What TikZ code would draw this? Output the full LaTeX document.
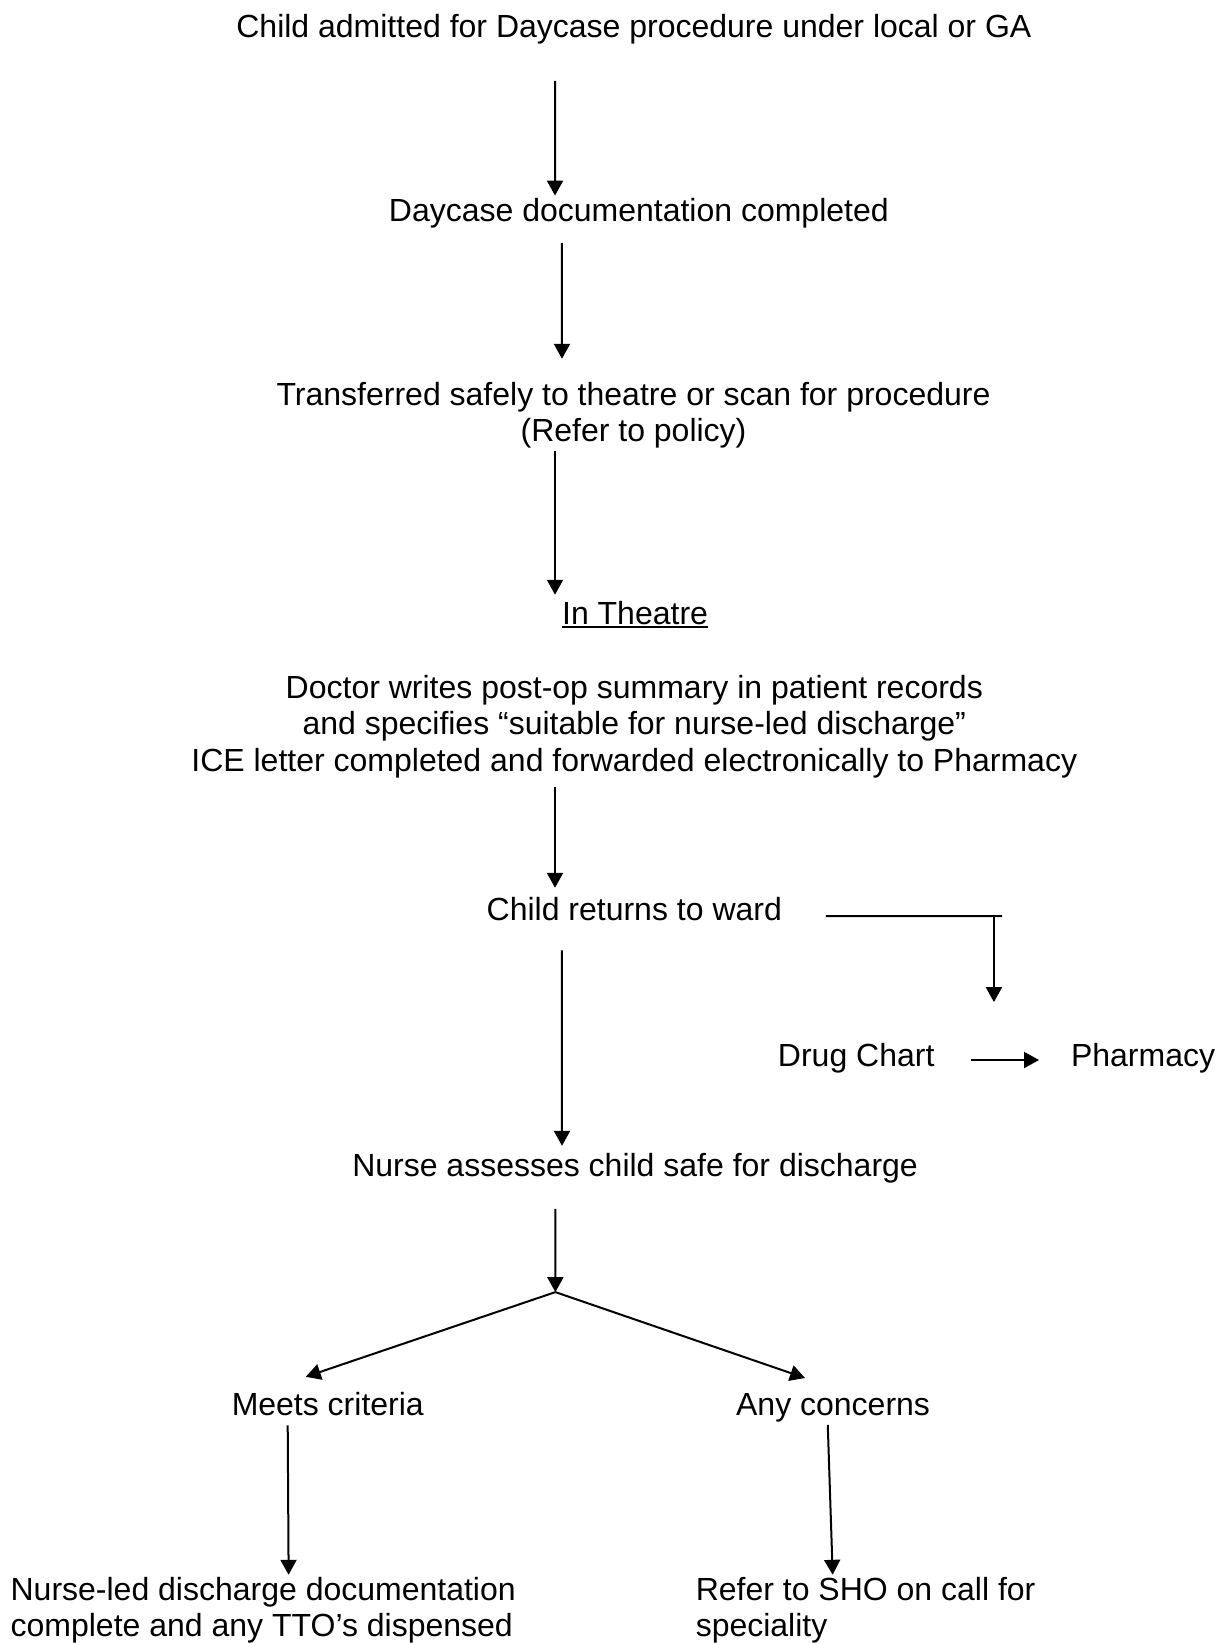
\documentclass[tikz,border=0pt]{standalone}
\usepackage{fontspec}
\setmainfont{Liberation Sans}
\usepackage{tikz}
\usetikzlibrary{arrows.meta,positioning,calc}
\newcommand{\undl}[1]{\setbox0\hbox{#1}\rlap{\rule[-1.6pt]{\wd0}{0.95pt}}\box0}

\begin{document}
\begin{tikzpicture}[
    lbl/.style={inner sep=0pt,outer sep=0pt,font=\fontsize{12}{13.8}\selectfont,anchor=base},
    arr/.style={-{Triangle[length=5.6pt,width=6pt]},line width=0.75pt},
    lin/.style={line width=0.75pt},
]
\useasboundingbox (0,0) rectangle (16.093,-21.655);

% multi-line nodes sit on their last line
\node[lbl] (start) at (8.355,-0.50) {Child admitted for Daycase procedure under local or GA};
\node[lbl] (docs) at (8.42,-2.913) {Daycase documentation completed};
\node[lbl,align=center] (transfer) at (8.35,-5.823) {Transferred safely to theatre or scan for procedure\\(Refer to policy)};
\node[lbl] (theatre) at (8.37,-8.225) {\undl{In Theatre}};
\node[lbl,align=center] (doctor) at (8.36,-10.17) {Doctor writes post-op summary in patient records\\and specifies “suitable for nurse-led discharge”\\ICE letter completed and forwarded electronically to Pharmacy};
\node[lbl] (ward) at (8.36,-12.126) {Child returns to ward};
\node[lbl] (drug) at (11.285,-14.06) {Drug Chart};
\node[lbl,anchor=base west] (pharm) at (14.116,-14.06) {Pharmacy};
\node[lbl] (nurse) at (8.37,-15.50) {Nurse assesses child safe for discharge};
\node[lbl] (meets) at (4.32,-18.65) {Meets criteria};
\node[lbl] (concerns) at (10.98,-18.65) {Any concerns};
\node[lbl,align=left,anchor=base west] (nld) at (0.14,-21.574) {Nurse-led discharge documentation\\complete and any TTO’s dispensed};
\node[lbl,align=left,anchor=base west] (sho) at (9.17,-21.574) {Refer to SHO on call for\\speciality};

\coordinate (split) at (7.32,-17.03);
\coordinate (wardend) at (13.207,-12.073);
\coordinate (chartin) at (13.10,-13.207);

% main column
\draw[arr] ([xshift=-1.04cm,yshift=-0.478cm]start.south) -- ([xshift=-1.105cm,yshift=0.03cm]docs.north);
\draw[arr] ([xshift=-1.013cm,yshift=-0.201cm]docs.south) -- ([xshift=-0.943cm,yshift=0.304cm]transfer.north);
\draw[arr] ([xshift=-1.035cm,yshift=-0.032cm]transfer.south) -- ([xshift=-1.055cm,yshift=0.081cm]theatre.north);
\draw[arr] ([xshift=-1.045cm,yshift=-0.114cm]doctor.south) -- ([xshift=-1.045cm,yshift=0.12cm]ward.north);
\draw[arr] ([xshift=-0.953cm,yshift=-0.395cm]ward.south) -- ([xshift=-0.963cm,yshift=0.093cm]nurse.north);
\draw[arr] ([xshift=-1.05cm,yshift=-0.346cm]nurse.south) -- (split);

% drug chart branch
\draw[lin] ([xshift=0.581cm,yshift=0.053cm]ward.base east) -- (wardend);
\draw[arr] (chartin |- wardend) -- (chartin);
\draw[arr] ([xshift=0.475cm,yshift=0.089cm]drug.base east) -- ([xshift=-0.422cm,yshift=0.089cm]pharm.base west);

% outcome
\draw[arr] (split) -- ([xshift=-0.29cm,yshift=0.198cm]meets.north);
\draw[arr] (split) -- ([xshift=-0.37cm,yshift=0.198cm]concerns.north);
\draw[arr] ([xshift=-0.528cm,yshift=-0.132cm]meets.south) -- ([xshift=3.664cm,yshift=0.028cm]nld.north west);
\draw[arr] ([xshift=-0.07cm,yshift=-0.043cm]concerns.south) -- ([xshift=1.805cm,yshift=0.028cm]sho.north west);
\end{tikzpicture}
\end{document}
